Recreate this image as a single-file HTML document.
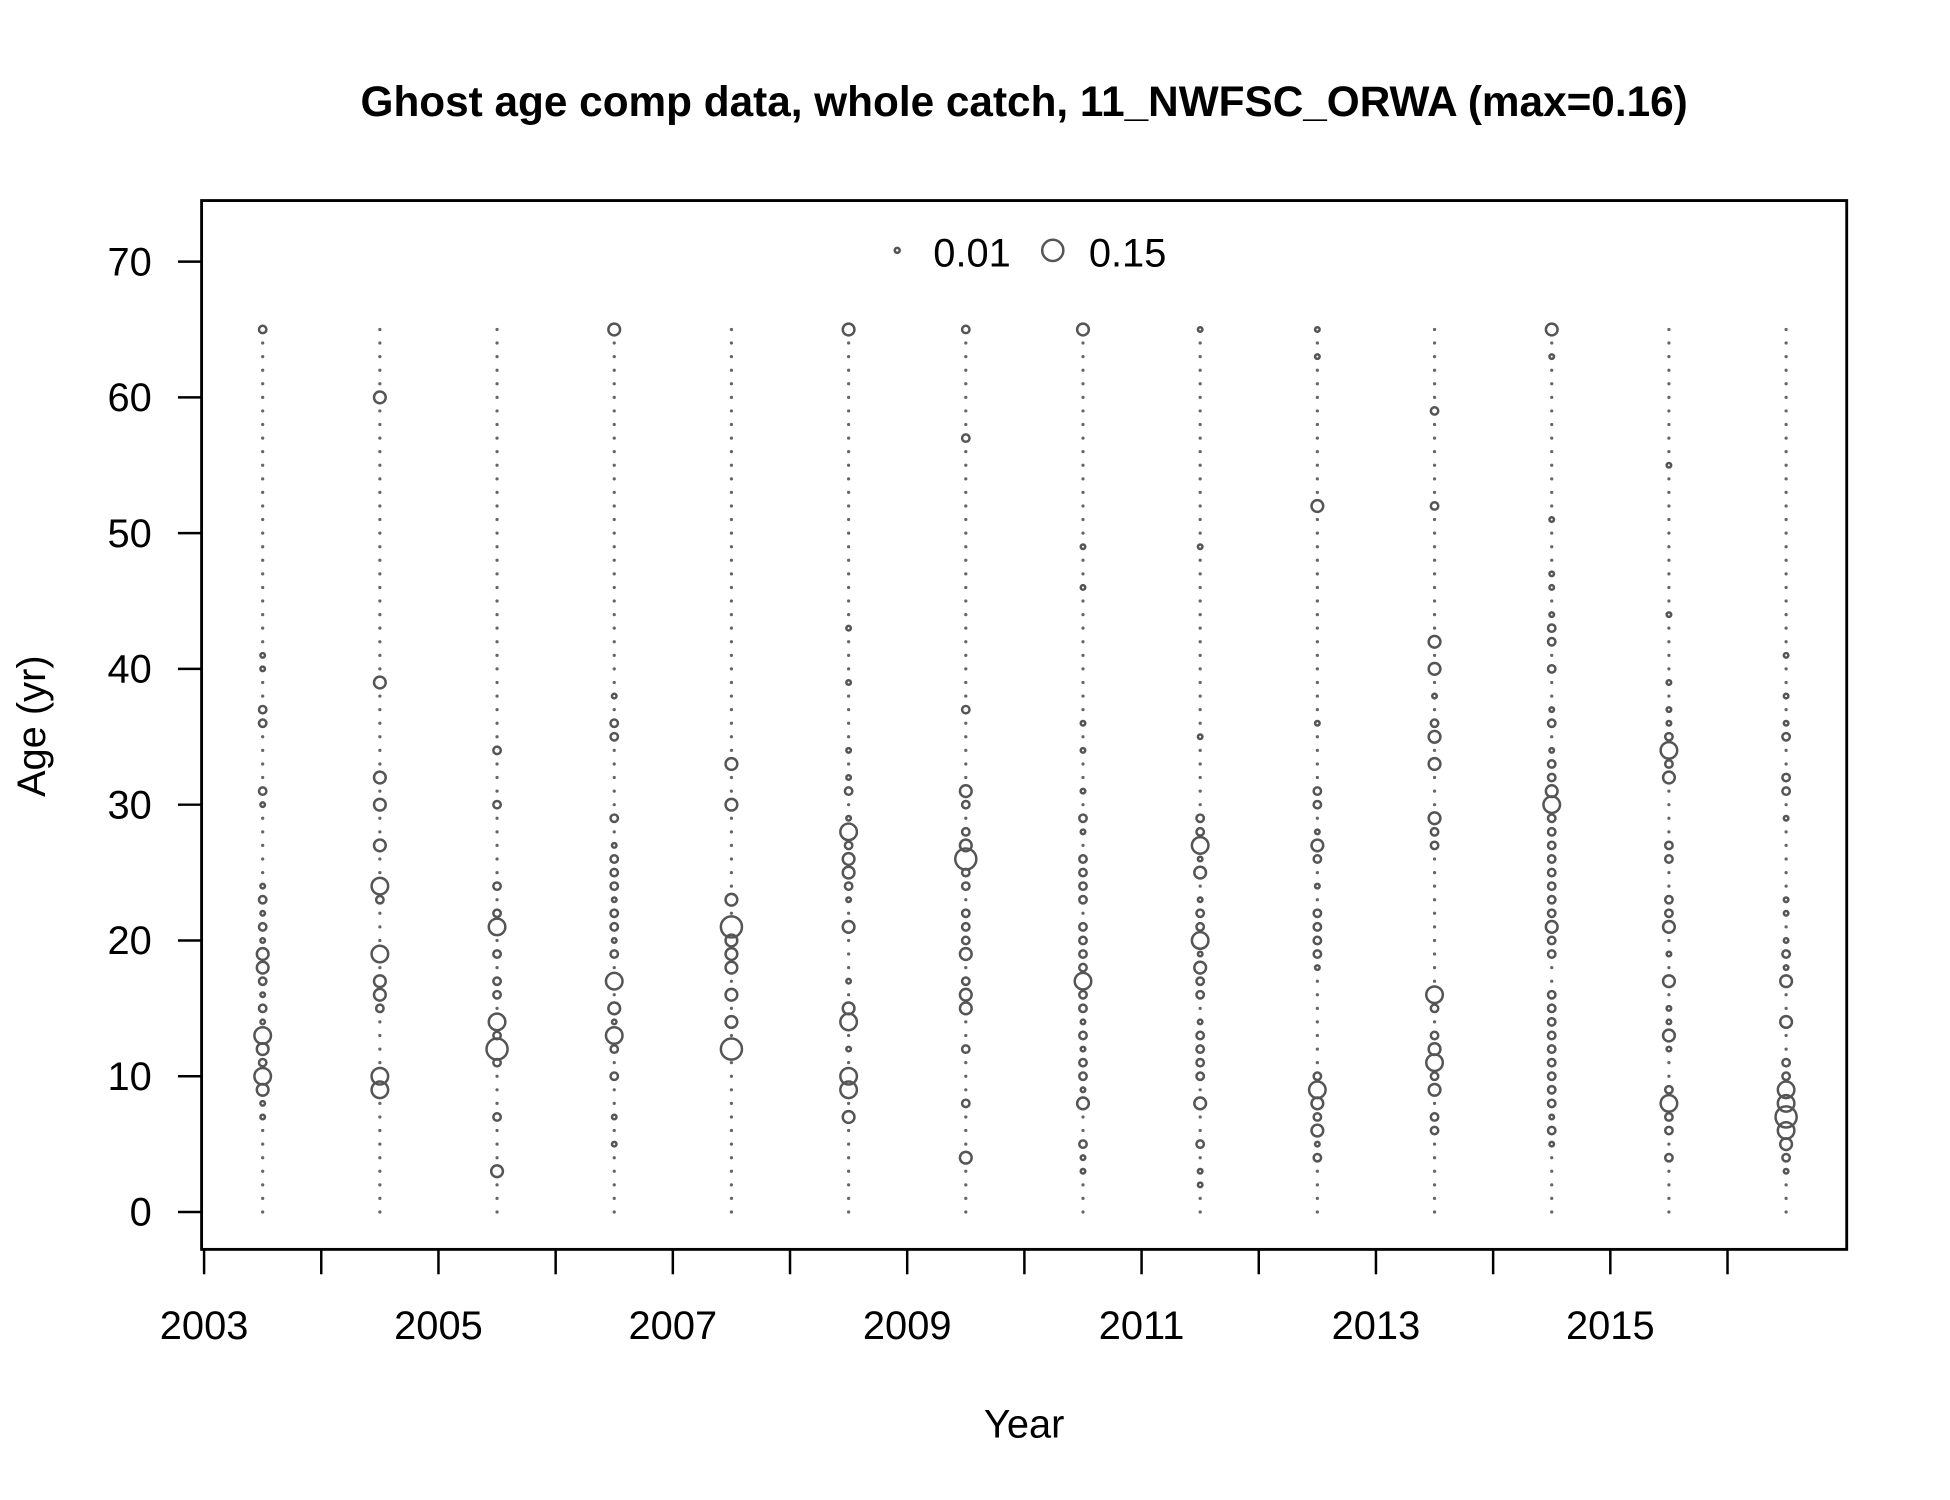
<!DOCTYPE html>
<html><head><meta charset="utf-8"><style>
html,body{margin:0;padding:0;background:#fff}
svg{display:block}
text{font-family:"Liberation Sans",Arial,sans-serif;fill:#000}
</style></head><body>
<svg id="chart" width="1950" height="1500" viewBox="0 0 1567 1204.2" preserveAspectRatio="none" xmlns="http://www.w3.org/2000/svg">
<rect width="1567" height="1204.2" fill="#fff"/>
<text x="823" y="93" text-anchor="middle" font-size="34" font-weight="bold">Ghost age comp data, whole catch, 11_NWFSC_ORWA (max=0.16)</text>
<rect x="162" y="161" width="1322" height="842" fill="none" stroke="#000" stroke-width="2.3"/>
<g id="yaxis"></g>
<g id="xaxis"></g>
<g id="marks"></g>
<text x="823" y="1154" text-anchor="middle" font-size="32">Year</text>
<text transform="translate(36,583) rotate(-90)" text-anchor="middle" font-size="32">Age (yr)</text>
<g>
<circle cx="721" cy="201" r="2" fill="none" stroke="#555" stroke-width="2"/>
<text x="750" y="214" font-size="32">0.01</text>
<circle cx="846" cy="201" r="8.5" fill="none" stroke="#555" stroke-width="2"/>
<text x="875" y="214" font-size="32">0.15</text>
</g>
</svg>
<script>
const years = [2003,2004,2005,2006,2007,2008,2009,2010,2011,2012,2013,2014,2015,2016];
const xTickYears = [2003,2004,2005,2006,2007,2008,2009,2010,2011,2012,2013,2014,2015,2016];
const xTickLabels = ["2003","","2005","","2007","","2009","","2011","","2013","","2015",""];
const yTicks = [0,10,20,30,40,50,60,70];
const maxAge = 65;
// t=tiny, s=small, m=medium, L=large, X=extra large
const sizeValues = {t:0.006, s:0.016, m:0.04, L:0.08, X:0.13};
const comps = [
"65s 41t 40t 37s 36s 31s 30t 24t 23s 22t 21s 20t 19m 18m 17s 16t 15s 14t 13L 12m 11s 10L 9m 8t 7t",
"60m 39m 32m 30m 27m 24L 23s 19L 17m 16m 15s 10L 9L",
"34s 30s 24s 22s 21L 19s 17s 16s 14L 13s 12X 11s 7s 3m",
"65m 38t 36s 35s 29s 27t 26s 25s 24s 23t 22s 21s 20t 19s 17L 15m 14t 13L 12s 10s 7t 5t",
"33m 30m 23m 21X 20m 19m 18m 16m 14m 12X",
"65m 43t 39t 34t 32t 31s 29t 28L 27s 26m 25m 24s 23t 21m 17t 15m 14L 12t 10L 9L 7m",
"65s 57s 37s 31m 30s 28s 27m 26X 25s 24s 22s 21s 20s 19m 17s 16m 15m 12s 8s 4m",
"65m 49t 46t 36t 34t 31t 29s 28t 26s 25s 24s 23s 21s 20s 19s 18s 17L 16s 15s 14t 13s 12t 11s 10s 9t 8m 5s 4t 3t",
"65t 49t 35t 29s 28s 27L 26t 25m 23t 22s 21s 20L 19t 18m 17s 16s 14t 13s 12s 11s 10s 8m 5s 3t 2t",
"65t 63t 52m 36t 31s 30s 28t 27m 26s 24t 22s 21s 20s 19s 18t 10s 9L 8m 7s 6m 5t 4s",
"59s 52s 42m 40m 38t 36s 35m 33m 29m 28s 27s 16L 15s 13s 12m 11L 10s 9m 7s 6s",
"65m 63t 51t 47t 46t 44t 43s 42s 40s 37t 36s 34t 33s 32s 31m 30L 29s 28s 27s 26s 25s 24s 23s 22s 21m 20s 19s 16s 15s 14s 13s 12s 11s 10s 9s 8s 7t 6s 5t",
"55t 44t 39t 37t 36t 35s 34L 33s 32m 27s 26s 23s 22s 21m 19t 17m 15t 14t 13m 12t 9s 8L 7s 6s 4s",
"41t 38t 36t 35s 32s 31s 29t 23t 22t 20t 19s 18t 17m 14m 11s 10s 9L 8L 7X 6L 5m 4s 3t"
];
const NS="http://www.w3.org/2000/svg";
const xS = y => 164 + (y-2003)*94.17;
const yS = a => 973 - a*10.9;
const rS = v => 23.5*Math.sqrt(v);
function mk(tag, attrs, parent){const e=document.createElementNS(NS,tag);for(const k in attrs)e.setAttribute(k,attrs[k]);parent.appendChild(e);return e;}
const ya=document.getElementById('yaxis'), xa=document.getElementById('xaxis'), mg=document.getElementById('marks');
yTicks.forEach(t=>{
  const l=mk('line',{x1:143,x2:162,y1:yS(t),y2:yS(t),stroke:'#000','stroke-width':2},ya);
  
  
  const tx=mk('text',{x:122,y:yS(t)+11,'text-anchor':'end','font-size':32},ya);
  tx.textContent=t;
  
  
});
xTickYears.forEach((y,i)=>{
  const l=mk('line',{x1:xS(y),x2:xS(y),y1:1003,y2:1023,stroke:'#000','stroke-width':2},xa);
  
  
  if(xTickLabels[i]){
    const tx=mk('text',{x:xS(y),y:1075,'text-anchor':'middle','font-size':32},xa);
    tx.textContent=xTickLabels[i];
    
    
  }
});
years.forEach((yr,i)=>{
  const vals={};
  comps[i].split(' ').forEach(tok=>{const a=parseInt(tok);const c=tok.replace(/[0-9]/g,'');vals[a]=sizeValues[c];});
  const cx=xS(yr+0.5);
  for(let a=0;a<=maxAge;a++){
    if(vals[a]){
      const c=mk('circle',{cx:cx,cy:yS(a),r:rS(vals[a]),fill:'none',stroke:'#555','stroke-width':2},mg);
      
      
    } else {
      const c=mk('circle',{cx:cx,cy:yS(a),r:1.3,fill:'#666'},mg);
      
      
    }
  }
});
</script>
</body></html>
